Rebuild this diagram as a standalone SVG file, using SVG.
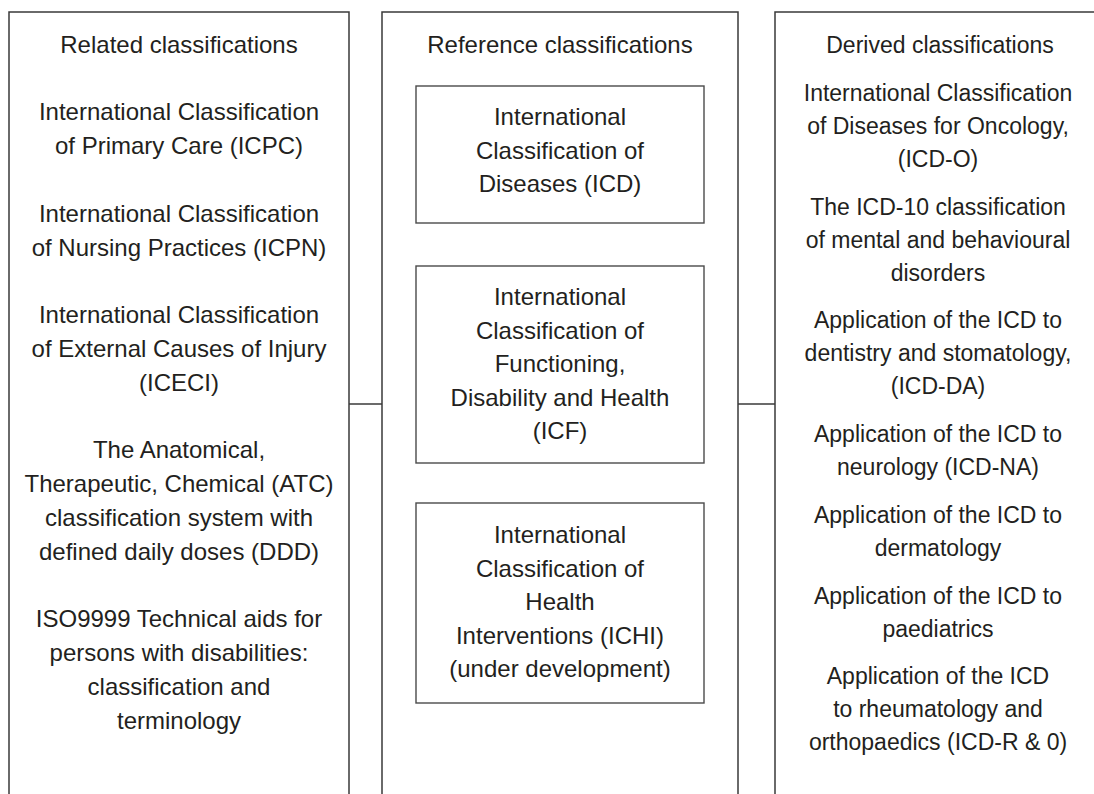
<svg xmlns="http://www.w3.org/2000/svg" width="1094" height="794" viewBox="0 0 1094 794">
<style>
.panel{fill:none;stroke:#3a3a3a;stroke-width:1.5}
.box{fill:#fff;stroke:#4a4a4a;stroke-width:1.4}
.conn{stroke:#3a3a3a;stroke-width:1.5;fill:none}
text{font-family:"Liberation Sans",Arial,sans-serif;font-size:24px;fill:#231f20;text-anchor:middle}
.r text{font-size:23px}
</style>
<rect width="1094" height="794" fill="#fff"/>
<g id="related">
<path class="panel" d="M9,794 V12 H349 V794"/>
<text x="179" y="53">Related classifications</text>
<text x="179" y="120">International Classification</text>
<text x="179" y="154">of Primary Care (ICPC)</text>
<text x="179" y="222">International Classification</text>
<text x="179" y="256">of Nursing Practices (ICPN)</text>
<text x="179" y="323">International Classification</text>
<text x="179" y="357">of External Causes of Injury</text>
<text x="179" y="391">(ICECI)</text>
<text x="179" y="458">The Anatomical,</text>
<text x="179" y="492">Therapeutic, Chemical (ATC)</text>
<text x="179" y="526">classification system with</text>
<text x="179" y="560">defined daily doses (DDD)</text>
<text x="179" y="627">ISO9999 Technical aids for</text>
<text x="179" y="661">persons with disabilities:</text>
<text x="179" y="695">classification and</text>
<text x="179" y="729">terminology</text>
</g>
<g id="reference">
<path class="panel" d="M382,794 V12 H738 V794"/>
<text x="560" y="53">Reference classifications</text>
</g>
<g id="icd">
<rect class="box" x="416" y="86" width="288" height="137"/>
<text x="560" y="125">International</text>
<text x="560" y="158.5">Classification of</text>
<text x="560" y="192">Diseases (ICD)</text>
</g>
<g id="icf">
<rect class="box" x="416" y="266" width="288" height="197"/>
<text x="560" y="305">International</text>
<text x="560" y="338.5">Classification of</text>
<text x="560" y="372">Functioning,</text>
<text x="560" y="405.5">Disability and Health</text>
<text x="560" y="439">(ICF)</text>
</g>
<g id="ichi">
<rect class="box" x="416" y="503" width="288" height="200"/>
<text x="560" y="543">International</text>
<text x="560" y="576.5">Classification of</text>
<text x="560" y="610">Health</text>
<text x="560" y="643.5">Interventions (ICHI)</text>
<text x="560" y="677">(under development)</text>
</g>
<g id="derived" class="r">
<path class="panel" d="M775,794 V12 H1100"/>
<text x="940" y="53">Derived classifications</text>
<text x="938" y="101">International Classification</text>
<text x="938" y="134">of Diseases for Oncology,</text>
<text x="938" y="167">(ICD-O)</text>
<text x="938" y="214.7">The ICD-10 classification</text>
<text x="938" y="247.7">of mental and behavioural</text>
<text x="938" y="280.7">disorders</text>
<text x="938" y="328.4">Application of the ICD to</text>
<text x="938" y="361.4">dentistry and stomatology,</text>
<text x="938" y="394.4">(ICD-DA)</text>
<text x="938" y="442">Application of the ICD to</text>
<text x="938" y="475">neurology (ICD-NA)</text>
<text x="938" y="522.8">Application of the ICD to</text>
<text x="938" y="555.8">dermatology</text>
<text x="938" y="603.5">Application of the ICD to</text>
<text x="938" y="636.5">paediatrics</text>
<text x="938" y="684">Application of the ICD</text>
<text x="938" y="717">to rheumatology and</text>
<text x="938" y="750">orthopaedics (ICD-R &amp; 0)</text>
</g>
<g id="connectors">
<line class="conn" x1="349" y1="404" x2="382" y2="404"/>
<line class="conn" x1="738" y1="404" x2="775" y2="404"/>
</g>
</svg>
